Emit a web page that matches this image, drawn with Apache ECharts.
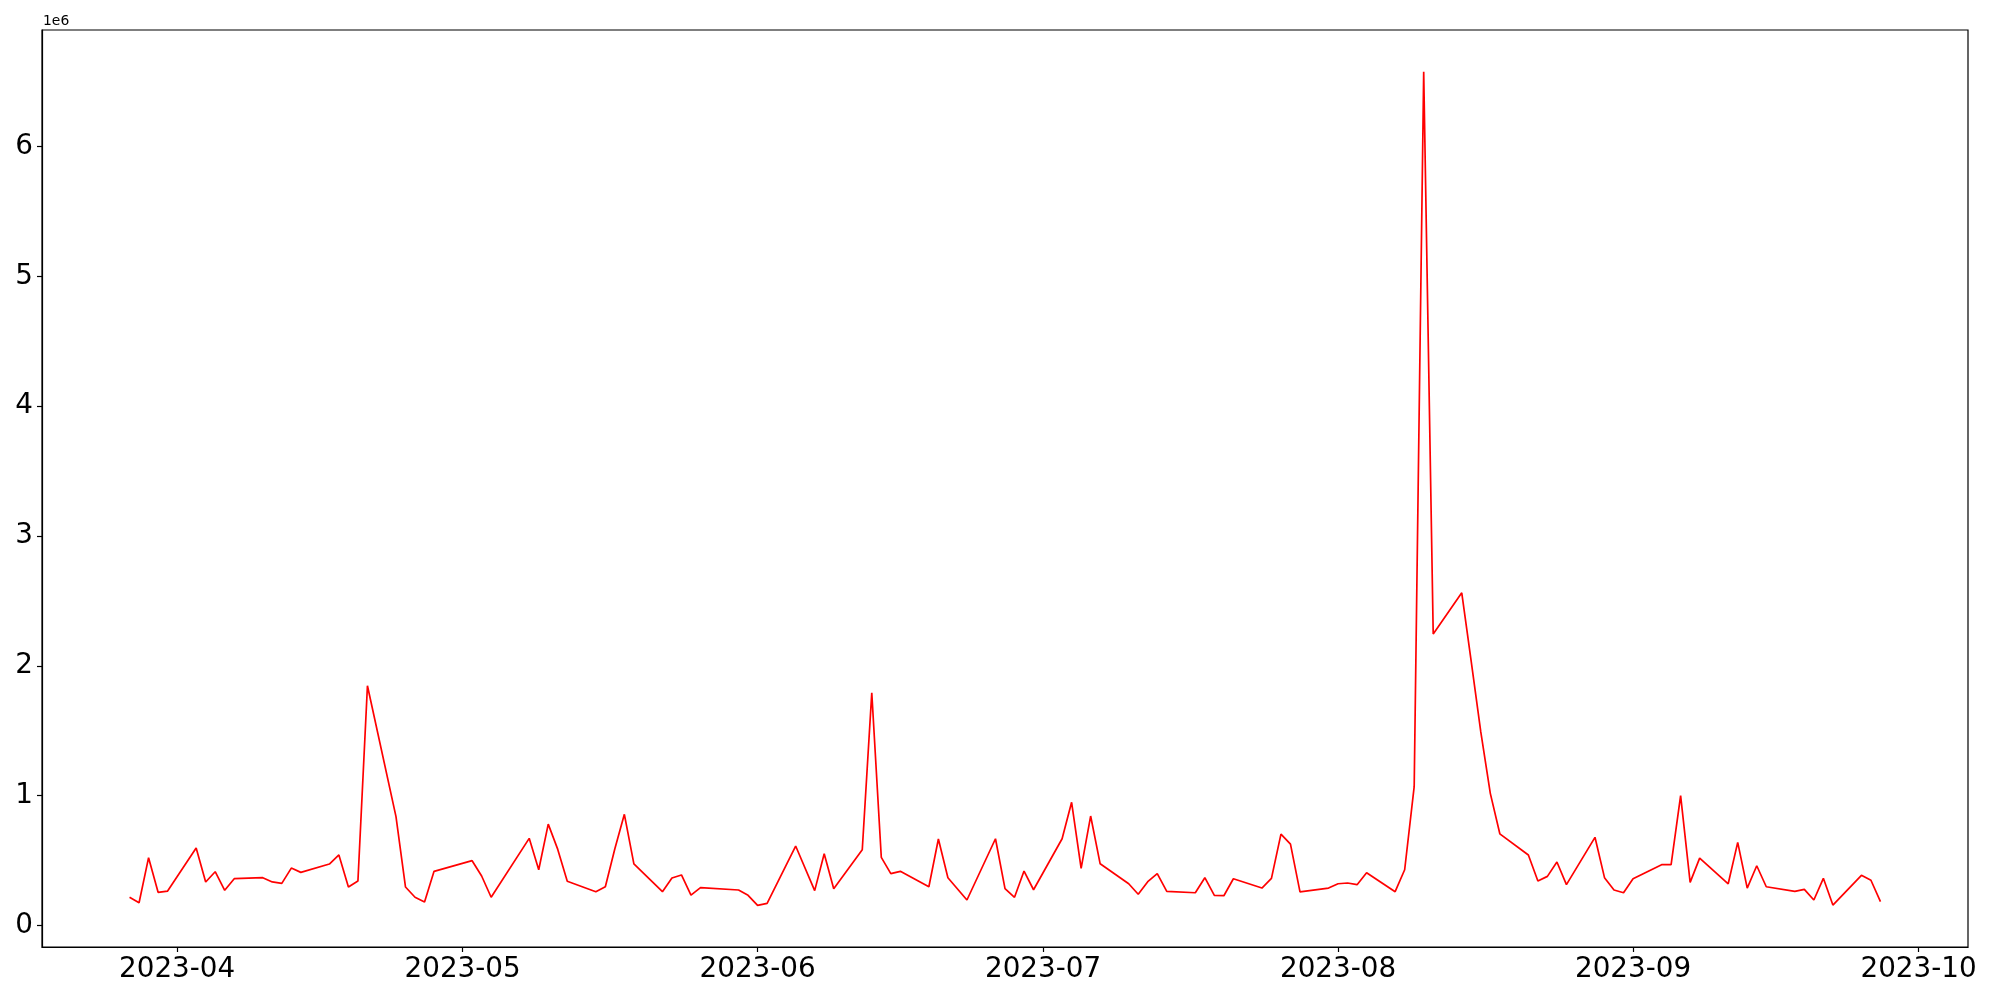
<!DOCTYPE html>
<html>
<head>
<meta charset="utf-8">
<script src="https://cdn.jsdelivr.net/npm/echarts@6/dist/echarts.min.js"></script>
<style>
  html, body { margin: 0; padding: 0; background: #fff; }
  #chart { width: 2000px; height: 1000px; }
</style>
</head>
<body>
<div id="chart"></div>
<script>
// ---- data ----
const dates = [
  '2023-03-27','2023-03-28','2023-03-29','2023-03-30','2023-03-31',
  '2023-04-03','2023-04-04','2023-04-05','2023-04-06','2023-04-07',
  '2023-04-10','2023-04-11','2023-04-12','2023-04-13','2023-04-14',
  '2023-04-17','2023-04-18','2023-04-19','2023-04-20','2023-04-21',
  '2023-04-24','2023-04-25','2023-04-26','2023-04-27','2023-04-28',
  '2023-05-02','2023-05-03','2023-05-04',
  '2023-05-08','2023-05-09','2023-05-10','2023-05-11','2023-05-12',
  '2023-05-15','2023-05-16','2023-05-17','2023-05-18','2023-05-19',
  '2023-05-22','2023-05-23','2023-05-24','2023-05-25','2023-05-26',
  '2023-05-30','2023-05-31','2023-06-01','2023-06-02',
  '2023-06-05','2023-06-07','2023-06-08','2023-06-09',
  '2023-06-12','2023-06-13','2023-06-14','2023-06-15','2023-06-16',
  '2023-06-19','2023-06-20','2023-06-21','2023-06-23',
  '2023-06-26','2023-06-27','2023-06-28','2023-06-29','2023-06-30',
  '2023-07-03','2023-07-04','2023-07-05','2023-07-06','2023-07-07',
  '2023-07-10','2023-07-11','2023-07-12','2023-07-13','2023-07-14',
  '2023-07-17','2023-07-18','2023-07-19','2023-07-20','2023-07-21',
  '2023-07-24','2023-07-25','2023-07-26','2023-07-27','2023-07-28',
  '2023-07-31','2023-08-01','2023-08-02','2023-08-03','2023-08-04',
  '2023-08-07','2023-08-08','2023-08-09','2023-08-10','2023-08-11',
  '2023-08-14','2023-08-15','2023-08-16','2023-08-17','2023-08-18',
  '2023-08-21','2023-08-22','2023-08-23','2023-08-24','2023-08-25',
  '2023-08-28','2023-08-29','2023-08-30','2023-08-31','2023-09-01',
  '2023-09-04','2023-09-05','2023-09-06','2023-09-07','2023-09-08',
  '2023-09-11','2023-09-12','2023-09-13','2023-09-14','2023-09-15',
  '2023-09-18','2023-09-19','2023-09-20','2023-09-21','2023-09-22',
  '2023-09-25','2023-09-26','2023-09-27'
];
const values = [
  216000,174000,521000,254000,264000,
  596000,334000,413000,270000,359000,
  367000,334000,323000,441000,408000,
  472000,542000,295000,341000,1846000,
  837000,295000,216000,180000,416000,
  498000,380000,216000,
  670000,428000,780000,585000,339000,
  259000,297000,590000,855000,474000,
  259000,364000,388000,233000,290000,
  272000,231000,154000,169000,
  611000,267000,552000,282000,
  582000,1792000,524000,398000,416000,
  297000,665000,367000,195000,
  667000,282000,216000,418000,274000,
  667000,948000,439000,842000,474000,
  320000,239000,336000,398000,262000,
  251000,367000,231000,228000,359000,
  287000,362000,703000,626000,257000,
  287000,320000,326000,313000,405000,
  259000,428000,1068000,6578000,2244000,
  2562000,2030000,1490000,1017000,705000,
  542000,341000,377000,488000,313000,
  678000,367000,272000,251000,359000,
  467000,467000,1000000,331000,518000,
  320000,639000,287000,459000,297000,
  262000,277000,195000,362000,156000,
  385000,347000,182000
];
const xTickLabels = ['2023-04','2023-05','2023-06','2023-07','2023-08','2023-09','2023-10'];
const yTickValues = [0, 1000000, 2000000, 3000000, 4000000, 5000000, 6000000];
const yScaleLabel = '1e6';

// ---- build ----
function utc(s) {
  const p = s.split('-').map(Number);
  return Date.UTC(p[0], p[1] - 1, p[2] || 1);
}
const xs = dates.map(utc);
const seriesData = xs.map((t, i) => [t, values[i]]);
const xTickValues = xTickLabels.map(utc);

const xSpan = xs[xs.length - 1] - xs[0];
const xMin = xs[0] - 0.05 * xSpan;
const xMax = xs[xs.length - 1] + 0.05 * xSpan;
const vMin = Math.min.apply(null, values), vMax = Math.max.apply(null, values);
const ySpan = vMax - vMin;
const yMin = vMin - 0.05 * ySpan;
const yMax = vMax + 0.05 * ySpan;

const FONT = 'DejaVu Sans';
const chart = echarts.init(document.getElementById('chart'), null, { renderer: 'canvas' });
chart.setOption({
  animation: false,
  backgroundColor: '#ffffff',
  grid: {
    left: 42, right: 32, top: 30, bottom: 53,
    show: true, borderColor: '#000', borderWidth: 1.2,
    containLabel: false
  },
  xAxis: {
    type: 'value',
    min: xMin, max: xMax,
    axisLine: { show: true, onZero: false, lineStyle: { color: '#000', width: 1.2 } },
    axisTick: { show: true, inside: false, length: 5, lineStyle: { color: '#000', width: 1.2 },
                customValues: xTickValues },
    axisLabel: {
      customValues: xTickValues,
      margin: 9,
      color: '#000',
      fontFamily: FONT,
      fontSize: 27.8,
      formatter: function (v) {
        const i = xTickValues.indexOf(v);
        return i >= 0 ? xTickLabels[i] : '';
      }
    },
    splitLine: { show: false }
  },
  yAxis: {
    type: 'value',
    min: yMin, max: yMax,
    axisLine: { show: true, onZero: false, lineStyle: { color: '#000', width: 1.2 } },
    axisTick: { show: true, inside: false, length: 5, lineStyle: { color: '#000', width: 1.2 },
                customValues: yTickValues },
    axisLabel: {
      customValues: yTickValues,
      margin: 9,
      color: '#000',
      fontFamily: FONT,
      fontSize: 27.8,
      formatter: function (v) { return String(Math.round(v / 1e6)); }
    },
    splitLine: { show: false }
  },
  graphic: [{
    type: 'text',
    left: 43, top: 14,
    style: { text: yScaleLabel, fontFamily: FONT, fontSize: 13.9, fill: '#000' }
  }],
  series: [{
    type: 'line',
    data: seriesData,
    showSymbol: false,
    symbol: 'none',
    lineStyle: { color: '#ff0000', width: 1.7 },
    itemStyle: { color: '#ff0000' }
  }]
});
</script>
</body>
</html>
